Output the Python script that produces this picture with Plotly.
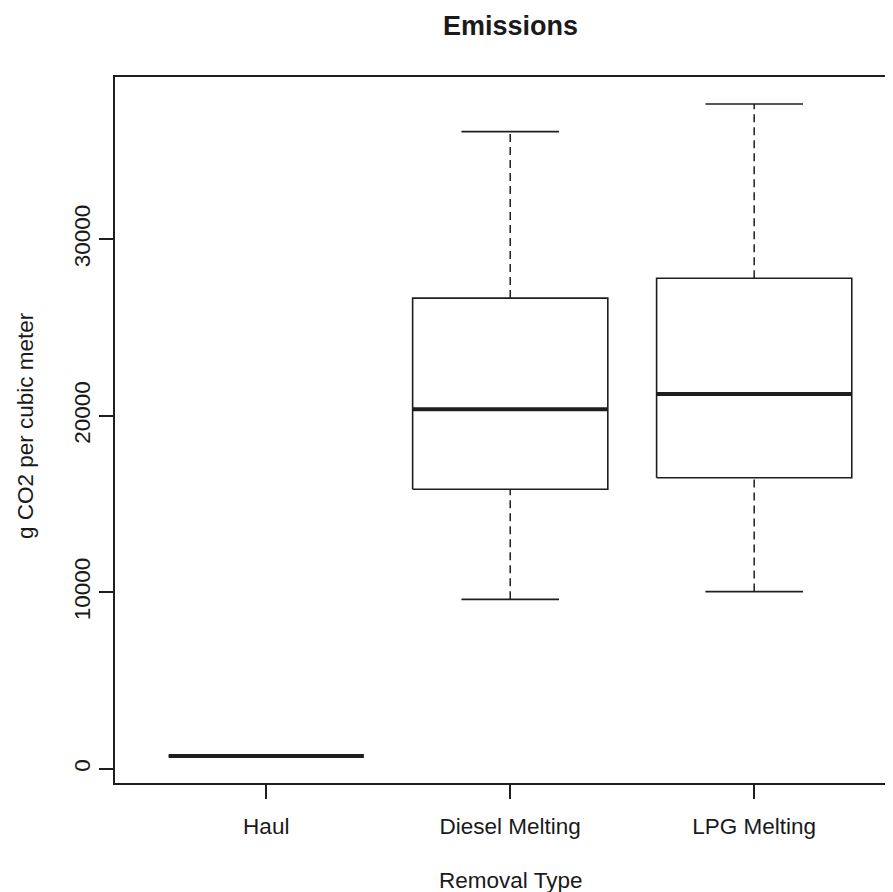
import plotly.graph_objects as go

categories = ["Haul", "Diesel Melting", "LPG Melting"]
positions = [1, 2, 3]
lower_whisker = [690, 9600, 10040]
q1 = [710, 15840, 16490]
median = [725, 20370, 21235]
q3 = [740, 26670, 27790]
upper_whisker = [760, 36100, 37670]

y_ticks = [0, 10000, 20000, 30000]
y_tick_labels = ["0", "10000", "20000", "30000"]

BOX_HALF = 0.4
CAP_HALF = 0.2
LINE = "#1e1e1e"
FONT = "Liberation Sans, Arial, Helvetica, sans-serif"

fig = go.Figure()

for c, lo, a, m, b, hi in zip(positions, lower_whisker, q1, median, q3, upper_whisker):
    # dashed whiskers
    fig.add_trace(go.Scatter(
        x=[c, c, None, c, c], y=[lo, a, None, b, hi], mode="lines",
        line=dict(color=LINE, width=1.5, dash="8px,5px"),
        hoverinfo="skip", showlegend=False))
    # caps
    fig.add_trace(go.Scatter(
        x=[c - CAP_HALF, c + CAP_HALF, None, c - CAP_HALF, c + CAP_HALF],
        y=[lo, lo, None, hi, hi], mode="lines",
        line=dict(color=LINE, width=1.6),
        hoverinfo="skip", showlegend=False))
    # box
    fig.add_trace(go.Scatter(
        x=[c - BOX_HALF, c + BOX_HALF, c + BOX_HALF, c - BOX_HALF, c - BOX_HALF],
        y=[a, a, b, b, a], mode="lines",
        line=dict(color=LINE, width=1.6),
        hoverinfo="skip", showlegend=False))
    # median
    fig.add_trace(go.Scatter(
        x=[c - BOX_HALF, c + BOX_HALF], y=[m, m], mode="lines",
        line=dict(color=LINE, width=4),
        hoverinfo="skip", showlegend=False))

fig.update_layout(
    width=885, height=884,
    margin=dict(l=107, r=0, t=69, b=109),
    paper_bgcolor="white", plot_bgcolor="white",
    font=dict(family=FONT, size=22.5, color="#1a1a1a"),
    showlegend=False,
    xaxis=dict(
        range=[0.38, 3.569], tickvals=positions, ticktext=categories,
        showline=True, linecolor=LINE, linewidth=1.5, mirror=True,
        ticks="outside", ticklen=14, tickwidth=1.5, tickcolor=LINE,
        showgrid=False, zeroline=False, ticklabelstandoff=8,
        tickfont=dict(family=FONT, size=22.5, color="#1a1a1a"),
    ),
    yaxis=dict(
        range=[-805, 39196], tickvals=y_ticks, ticktext=y_tick_labels,
        tickangle=-90,
        showline=True, linecolor=LINE, linewidth=1.5, mirror=False,
        ticks="outside", ticklen=14, tickwidth=1.5, tickcolor=LINE,
        showgrid=False, zeroline=False,
        tickfont=dict(family=FONT, size=22.5, color="#1a1a1a"),
    ),
    annotations=[
        dict(text="<b>Emissions</b>", xref="x", yref="paper", x=2, y=1.0723,
             xanchor="center", yanchor="middle", showarrow=False,
             font=dict(family=FONT, size=27, color="#1a1a1a")),
        dict(text="Removal Type", xref="x", yref="paper", x=2, y=-0.1374,
             xanchor="center", yanchor="middle", showarrow=False,
             font=dict(family=FONT, size=22.5, color="#1a1a1a")),
        dict(text="g CO2 per cubic meter", xref="paper", yref="paper",
             x=-0.1157, y=0.507, textangle=-90,
             xanchor="center", yanchor="middle", showarrow=False,
             font=dict(family=FONT, size=22.5, color="#1a1a1a")),
    ],
)

fig.write_html("out.html")
